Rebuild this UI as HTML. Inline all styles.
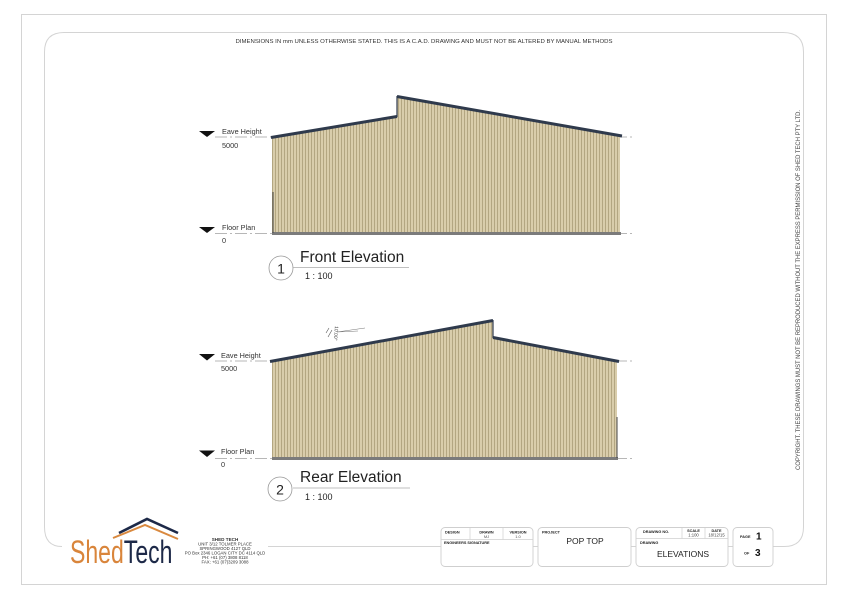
<!DOCTYPE html>
<html>
<head>
<meta charset="utf-8">
<style>
html,body{margin:0;padding:0;background:#fff;}
svg{display:block;}
text{font-family:"Liberation Sans",sans-serif;}
</style>
</head>
<body>
<svg width="848" height="600" viewBox="0 0 848 600" xmlns="http://www.w3.org/2000/svg">
<defs>
<pattern id="rib" width="3" height="10" patternUnits="userSpaceOnUse">
<rect width="3" height="10" fill="#d9cdab"/>
<rect x="2" width="1" height="10" fill="#b3a681"/>
</pattern>
</defs>
<rect width="848" height="600" fill="#fff"/>
<!-- outer border -->
<rect x="21.5" y="14.5" width="805" height="570" fill="none" stroke="#d4d4d4" stroke-width="1"/>
<!-- inner rounded frame -->
<path d="M44.5,527 L44.5,52 Q44.5,32.5 64,32.5 L783,32.5 Q803.5,32.5 803.5,52 L803.5,527 Q803.5,546.5 784,546.5 L773,546.5" fill="none" stroke="#d4d4d4" stroke-width="1"/>
<path d="M44.5,527 Q44.5,546.5 62,546.5" fill="none" stroke="#d4d4d4" stroke-width="1"/>
<line x1="268" y1="546.5" x2="441" y2="546.5" stroke="#d4d4d4" stroke-width="1"/>
<line x1="533" y1="546.5" x2="538" y2="546.5" stroke="#d4d4d4" stroke-width="1"/>
<line x1="631" y1="546.5" x2="636" y2="546.5" stroke="#d4d4d4" stroke-width="1"/>
<line x1="728" y1="546.5" x2="733" y2="546.5" stroke="#d4d4d4" stroke-width="1"/>

<!-- header text -->
<text x="424" y="43" font-size="5.6" fill="#333" text-anchor="middle" textLength="377" lengthAdjust="spacingAndGlyphs">DIMENSIONS IN mm UNLESS OTHERWISE STATED. THIS IS A C.A.D. DRAWING AND MUST NOT BE ALTERED BY MANUAL METHODS</text>

<!-- vertical copyright -->
<text transform="translate(800,290) rotate(-90)" x="0" y="0" font-size="6.2" fill="#444" text-anchor="middle" textLength="360" lengthAdjust="spacingAndGlyphs">COPYRIGHT. THESE DRAWINGS MUST NOT BE REPRODUCED WITHOUT THE EXPRESS PERMISSION OF SHED TECH PTY LTD.</text>

<!-- ===== FRONT ELEVATION ===== -->
<line x1="215" y1="137" x2="634" y2="137" stroke="#a0a0a0" stroke-width="0.8" stroke-dasharray="12,3,2,3"/>
<line x1="215" y1="233.5" x2="634" y2="233.5" stroke="#a0a0a0" stroke-width="0.8" stroke-dasharray="12,3,2,3"/>
<path d="M272,137 L397,116 L397,97 L620,136 L620,233 L272,233 Z" fill="url(#rib)"/>
<polyline points="271,137.5 397,116.5" fill="none" stroke="#2f3a4c" stroke-width="3"/>
<polyline points="397,96.5 622,136" fill="none" stroke="#2f3a4c" stroke-width="3"/>
<line x1="397" y1="96" x2="397" y2="117" stroke="#2f3a4c" stroke-width="1.2"/>
<rect x="272" y="232" width="349" height="3" fill="#7b7b7b"/>
<line x1="273" y1="192" x2="273" y2="233" stroke="#444" stroke-width="1"/>
<polygon points="199,131 215,131 207,137" fill="#111"/>
<text x="222" y="134" font-size="7.3" fill="#333">Eave Height</text>
<text x="222" y="148" font-size="7.3" fill="#333">5000</text>
<polygon points="199,227 215,227 207,233" fill="#111"/>
<text x="222" y="230" font-size="7.3" fill="#333">Floor Plan</text>
<text x="222" y="243" font-size="7.3" fill="#333">0</text>
<circle cx="281" cy="268" r="12" fill="none" stroke="#999" stroke-width="0.8"/>
<text x="281" y="273.5" font-size="14" fill="#222" text-anchor="middle">1</text>
<text x="300" y="262" font-size="15.5" fill="#222">Front Elevation</text>
<line x1="293" y1="267.5" x2="409" y2="267.5" stroke="#aaa" stroke-width="0.8"/>
<text x="305" y="279" font-size="9" fill="#222">1 : 100</text>

<!-- ===== REAR ELEVATION ===== -->
<line x1="215" y1="361" x2="634" y2="361" stroke="#a0a0a0" stroke-width="0.8" stroke-dasharray="12,3,2,3"/>
<line x1="215" y1="458.5" x2="634" y2="458.5" stroke="#a0a0a0" stroke-width="0.8" stroke-dasharray="12,3,2,3"/>
<path d="M272,361 L493,321 L493,338 L617,361 L617,458 L272,458 Z" fill="url(#rib)"/>
<polyline points="270,361.5 493,320.5" fill="none" stroke="#2f3a4c" stroke-width="3"/>
<polyline points="493,337.5 619,361.5" fill="none" stroke="#2f3a4c" stroke-width="3"/>
<line x1="493" y1="320" x2="493" y2="338" stroke="#2f3a4c" stroke-width="1.2"/>
<rect x="272" y="457" width="346" height="3" fill="#7b7b7b"/>
<line x1="617" y1="417" x2="617" y2="458" stroke="#444" stroke-width="1"/>
<polygon points="199,354 215,354 207,360.5" fill="#111"/>
<text x="221" y="358" font-size="7.3" fill="#333">Eave Height</text>
<text x="221" y="371" font-size="7.3" fill="#333">5000</text>
<polygon points="199,450.5 215,450.5 207,457" fill="#111"/>
<text x="221" y="454" font-size="7.3" fill="#333">Floor Plan</text>
<text x="221" y="467" font-size="7.3" fill="#333">0</text>
<!-- slope annotation -->
<line x1="337" y1="332" x2="365" y2="328" stroke="#777" stroke-width="0.6"/>
<line x1="337" y1="332" x2="358" y2="331" stroke="#777" stroke-width="0.6"/>
<line x1="326" y1="333" x2="329" y2="328" stroke="#555" stroke-width="0.6"/>
<line x1="328" y1="337" x2="332" y2="330" stroke="#555" stroke-width="0.6"/>
<text transform="translate(335,326) rotate(95)" font-size="5" fill="#444">10.00°</text>
<circle cx="280" cy="489" r="12" fill="none" stroke="#999" stroke-width="0.8"/>
<text x="280" y="494.5" font-size="14" fill="#222" text-anchor="middle">2</text>
<text x="300" y="482" font-size="15.5" fill="#222">Rear Elevation</text>
<line x1="293" y1="488" x2="410" y2="488" stroke="#aaa" stroke-width="0.8"/>
<text x="305" y="500" font-size="9" fill="#222">1 : 100</text>

<!-- ===== LOGO ===== -->
<polyline points="113,538 145,525 178,539" fill="none" stroke="#d9893f" stroke-width="2"/>
<polyline points="119,533 147,519 178,533" fill="none" stroke="#1d2948" stroke-width="2.6"/>
<g transform="translate(70,563) scale(0.72,1)">
<text x="0" y="0" font-size="32" fill="#d9853b">Shed<tspan fill="#1d2948">Tech</tspan></text>
</g>
<g font-size="4.3" fill="#333" text-anchor="middle">
<text x="225" y="541" font-weight="bold" font-size="4.6">SHED TECH</text>
<text x="225" y="545.5">UNIT 3/12 TOLMER PLACE</text>
<text x="225" y="550">SPRINGWOOD 4127 QLD</text>
<text x="225" y="554.5">PO Box 2346 LOGAN CITY DC 4114 QLD</text>
<text x="225" y="559">PH: +61 (07) 3808 8118</text>
<text x="225" y="563.5">FAX: +61 (07)3209 3088</text>
</g>

<!-- ===== TITLE BLOCKS ===== -->
<rect x="441" y="527.5" width="92" height="39" rx="4" fill="#fff" stroke="#cfcfcf" stroke-width="0.9"/>
<line x1="441" y1="539.5" x2="533" y2="539.5" stroke="#cfcfcf" stroke-width="0.7"/>
<line x1="470" y1="527.5" x2="470" y2="539.5" stroke="#cfcfcf" stroke-width="0.7"/>
<line x1="503" y1="527.5" x2="503" y2="539.5" stroke="#cfcfcf" stroke-width="0.7"/>
<g font-size="3.8" font-weight="bold" fill="#222">
<text x="445" y="533.5">DESIGN</text>
<text x="486.5" y="533.5" text-anchor="middle">DRAWN</text>
<text x="518" y="533.5" text-anchor="middle">VERSION</text>
<text x="444" y="544">ENGINEERS SIGNATURE</text>
</g>
<text x="486.5" y="538" font-size="4" fill="#555" text-anchor="middle">MJ</text>
<text x="518" y="538" font-size="4" fill="#555" text-anchor="middle">1.0</text>

<rect x="538" y="527.5" width="93" height="39" rx="4" fill="#fff" stroke="#cfcfcf" stroke-width="0.9"/>
<text x="542" y="533.5" font-size="3.8" font-weight="bold" fill="#222">PROJECT</text>
<text x="585" y="544" font-size="8.5" fill="#222" text-anchor="middle">POP TOP</text>

<rect x="636" y="527.5" width="92" height="39" rx="4" fill="#fff" stroke="#cfcfcf" stroke-width="0.9"/>
<line x1="636" y1="538.5" x2="728" y2="538.5" stroke="#cfcfcf" stroke-width="0.7"/>
<line x1="682" y1="527.5" x2="682" y2="538.5" stroke="#cfcfcf" stroke-width="0.7"/>
<line x1="705" y1="527.5" x2="705" y2="538.5" stroke="#cfcfcf" stroke-width="0.7"/>
<g font-size="3.8" font-weight="bold" fill="#222">
<text x="643" y="533">DRAWING NO.</text>
<text x="693.5" y="532" text-anchor="middle">SCALE</text>
<text x="716.5" y="532" text-anchor="middle">DATE</text>
<text x="640" y="544">DRAWING</text>
</g>
<text x="693.5" y="536.5" font-size="4.2" fill="#444" text-anchor="middle">1:100</text>
<text x="716.5" y="536.5" font-size="4.2" fill="#444" text-anchor="middle">18/12/15</text>
<text x="683" y="557" font-size="8.5" fill="#222" text-anchor="middle">ELEVATIONS</text>

<rect x="733" y="527.5" width="40" height="39" rx="4" fill="#fff" stroke="#cfcfcf" stroke-width="0.9"/>
<text x="740" y="538" font-size="3.8" font-weight="bold" fill="#222">PAGE</text>
<text x="756" y="539.5" font-size="10" font-weight="bold" fill="#111">1</text>
<text x="744" y="554.5" font-size="3.8" font-weight="bold" fill="#222">OF</text>
<text x="755" y="556" font-size="10" font-weight="bold" fill="#111">3</text>
</svg>
</body>
</html>
